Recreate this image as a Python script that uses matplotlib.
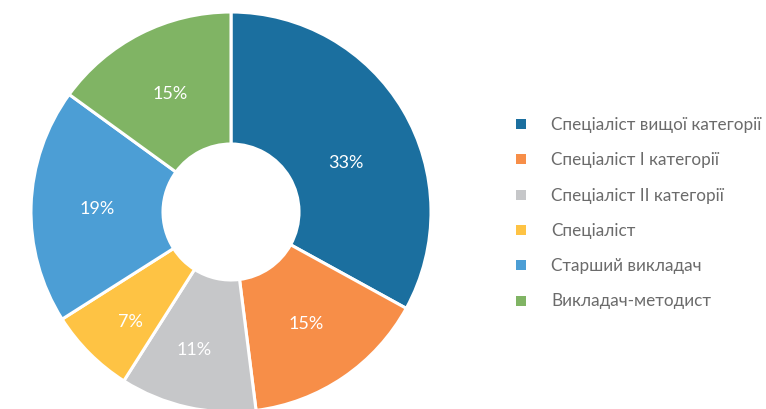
import matplotlib
matplotlib.use("Agg")
import matplotlib.pyplot as plt
from matplotlib.patches import Rectangle

categories = ["Спеціаліст вищої категорії", "Спеціаліст І категорії", "Спеціаліст ІІ категорії",
              "Спеціаліст", "Старший викладач", "Викладач-методист"]
values = [33, 15, 11, 7, 19, 15]
colors = ["#1b6f9f", "#f78e48", "#c6c7c9", "#fec344", "#4c9ed5", "#80b464"]

fig = plt.figure(figsize=(7.66, 4.10), dpi=100)
ax = fig.add_axes([31 / 766, (410 - 413) / 410, 400 / 766, 400 / 410])
wedges, texts, autotexts = ax.pie(
    values, colors=colors, startangle=90, counterclock=False,
    autopct=lambda p: f"{p:.0f}%", pctdistance=0.67,
    wedgeprops=dict(width=0.66, edgecolor="white", linewidth=2.2),
    textprops=dict(color="white", fontsize=13, fontweight="normal",
                   family=["Lato", "DejaVu Sans"]),
    radius=1.0)
# slight label nudges to follow the reference placement
nudges = {0: (0.0, -0.09), 2: (-0.04, -0.03), 3: (-0.03, -0.07)}
for i, (dx, dy) in nudges.items():
    x, y = autotexts[i].get_position()
    autotexts[i].set_position((x + dx, y + dy))
ax.set_xlim(-1, 1)
ax.set_ylim(-1, 1)
ax.set_aspect("equal")
ax.axis("off")

y0 = 125
dy = 35.3
for i, (cat, col) in enumerate(zip(categories, colors)):
    yc = y0 + i * dy
    fig.patches.append(Rectangle((516 / 766, (410 - yc - 5) / 410), 10 / 766, 10 / 410,
                                 transform=fig.transFigure, facecolor=col, edgecolor="none"))
    fig.text(551 / 766, (410 - yc) / 410, cat, color="#6b6b6b", fontsize=12.3,
             family=["Lato", "DejaVu Sans"], va="center", ha="left")

fig.savefig("out.png", dpi=100)
